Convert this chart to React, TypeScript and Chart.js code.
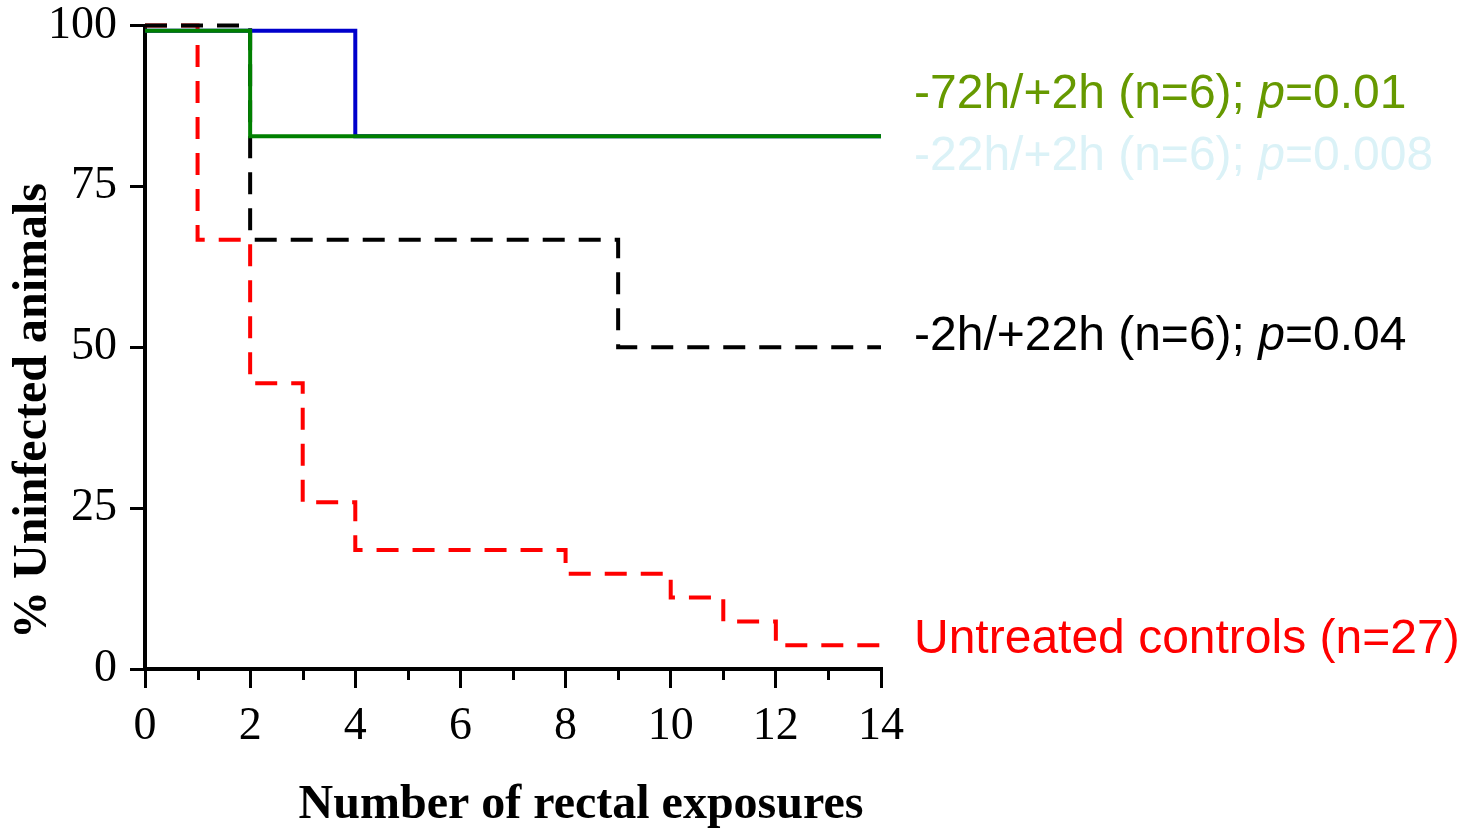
import React, { useEffect, useRef } from "react";
import { Chart, registerables } from "chart.js";

Chart.register(...registerables);

// ---- data ----
const controlX = [0, 1, 2, 3, 4, 8, 10, 11, 12, 14];
const controlY = [100, 66.7, 44.4, 25.9, 18.5, 14.8, 11.1, 7.4, 3.7, 3.7];
const minus2X = [0, 2, 9, 14];
const minus2Y = [100, 66.7, 50, 50];
const minus22X = [0, 4, 14];
const minus22Y = [99.2, 82.8, 82.8];
const minus72X = [0, 2, 14];
const minus72Y = [99.2, 82.8, 82.8];

const xTickValues = [0, 2, 4, 6, 8, 10, 12, 14];
const xMinorTicks = [1, 3, 5, 7, 9, 11, 13];
const yTickValues = [0, 25, 50, 75, 100];

const xTitle = "Number of rectal exposures";
const yTitle = "% Uninfected animals";

// legend texts: [before, italic, after]
const labelMinus72 = ["-72h/+2h (n=6); ", "p", "=0.01"];
const labelMinus22 = ["-22h/+2h (n=6); ", "p", "=0.008"];
const labelMinus2 = ["-2h/+22h (n=6); ", "p", "=0.04"];
const labelControl = ["Untreated controls (n=27)", "", ""];

const SERIF = '"Liberation Serif", "Times New Roman", serif';
const SANS = '"Liberation Sans", Arial, sans-serif';

const toPts = (xs: number[], ys: number[]) => xs.map((x, i) => ({ x, y: ys[i] }));

export default function App() {
  const ref = useRef<HTMLCanvasElement | null>(null);

  useEffect(() => {
    const canvas = ref.current;
    if (!canvas) return;

    const annotations = [
      { parts: labelMinus72, color: "#669900", y: 108 },
      { parts: labelMinus22, color: "#dbf2f7", y: 170 },
      { parts: labelMinus2, color: "#000000", y: 350 },
      { parts: labelControl, color: "#ff0000", y: 653 },
    ];

    const extras = {
      id: "extras",
      afterDraw(chart: any) {
        const ctx = chart.ctx as CanvasRenderingContext2D;
        const xs = chart.scales.x;
        const bottom = chart.chartArea.bottom;
        ctx.save();
        // minor ticks
        ctx.strokeStyle = "#000";
        ctx.lineWidth = 3;
        xMinorTicks.forEach((v) => {
          const px = Math.round(xs.getPixelForValue(v)) + 0.5;
          ctx.beginPath();
          ctx.moveTo(px, bottom);
          ctx.lineTo(px, bottom + 11);
          ctx.stroke();
        });
        // axis titles
        ctx.fillStyle = "#000";
        ctx.font = `bold 48px ${SERIF}`;
        ctx.textAlign = "center";
        ctx.textBaseline = "alphabetic";
        ctx.fillText(xTitle, 581, 818);
        ctx.save();
        ctx.translate(46, 411);
        ctx.rotate(-Math.PI / 2);
        ctx.fillText(yTitle, 0, 0);
        ctx.restore();
        // right-hand labels
        ctx.textAlign = "left";
        annotations.forEach((a) => {
          let x = 914;
          ctx.fillStyle = a.color;
          const [pre, it, post] = a.parts;
          ctx.font = `48px ${SANS}`;
          ctx.fillText(pre, x, a.y);
          x += ctx.measureText(pre).width;
          if (it) {
            ctx.font = `italic 48px ${SANS}`;
            ctx.fillText(it, x, a.y);
            x += ctx.measureText(it).width;
          }
          if (post) {
            ctx.font = `48px ${SANS}`;
            ctx.fillText(post, x, a.y);
          }
        });
        ctx.restore();
      },
    };

    const common = {
      stepped: "before" as const,
      pointRadius: 0,
      fill: false,
      borderWidth: 4,
      borderJoinStyle: "miter" as const,
      borderCapStyle: "butt" as const,
      clip: false as any,
    };

    const chart = new Chart(canvas, {
      type: "line",
      data: {
        datasets: [
          { ...common, label: "Untreated controls", data: toPts(controlX, controlY), borderColor: "#ff0000", borderDash: [22, 14], order: 4 },
          { ...common, label: "-2h/+22h", data: toPts(minus2X, minus2Y), borderColor: "#000000", borderDash: [22, 14], order: 3 },
          { ...common, label: "-22h/+2h", data: toPts(minus22X, minus22Y), borderColor: "#0000cc", order: 2 },
          { ...common, label: "-72h/+2h", data: toPts(minus72X, minus72Y), borderColor: "#008000", order: 1 },
        ] as any,
      },
      options: {
        responsive: false,
        animation: false,
        devicePixelRatio: 1,
        layout: { padding: { top: 25.5, right: 583, bottom: 0, left: 0 } },
        plugins: { legend: { display: false }, tooltip: { enabled: false }, title: { display: false } },
        scales: {
          x: {
            type: "linear",
            min: 0,
            max: 14,
            afterFit: (s: any) => { s.height = 159; s.paddingLeft = 0; s.paddingRight = 0; },
            afterBuildTicks: (s: any) => { s.ticks = xTickValues.map((v) => ({ value: v })); },
            border: { display: true, color: "#000", width: 4 },
            grid: { display: true, drawOnChartArea: false, drawTicks: true, tickLength: 19, color: "#000", lineWidth: 3 },
            ticks: { autoSkip: false, maxRotation: 0, padding: 16, color: "#000", font: { family: SERIF, size: 46, lineHeight: 1 } },
          },
          y: {
            type: "linear",
            min: 0,
            max: 100,
            afterFit: (s: any) => { s.width = 145; s.paddingTop = 0; s.paddingBottom = 0; },
            afterBuildTicks: (s: any) => { s.ticks = yTickValues.map((v) => ({ value: v })); },
            border: { display: true, color: "#000", width: 4 },
            grid: { display: true, drawOnChartArea: false, drawTicks: true, tickLength: 15, color: "#000", lineWidth: 3 },
            ticks: { autoSkip: false, padding: 13, color: "#000", font: { family: SERIF, size: 46, lineHeight: 1 } },
          },
        },
      },
      plugins: [extras],
    });

    return () => chart.destroy();
  }, []);

  return (
    <div style={{ position: "absolute", left: 0, top: 0, width: 1464, height: 828, background: "#fff" }}>
      <canvas ref={ref} width={1464} height={828} />
    </div>
  );
}
